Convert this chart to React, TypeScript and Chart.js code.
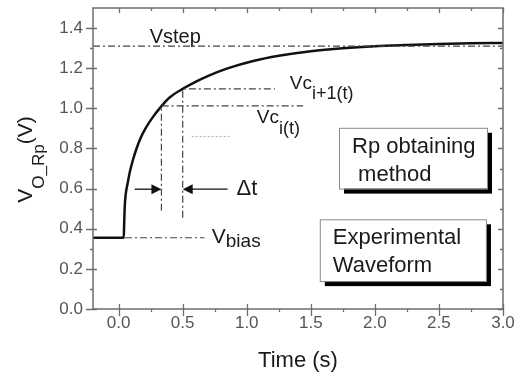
import { useEffect, useRef } from "react";
import { Chart, registerables } from "chart.js";

Chart.register(...registerables);

const FONT = '"Liberation Sans", Arial, Helvetica, sans-serif';

// ---- data ----
const timeS = [-0.2, 0.0, 0.04, 0.043, 0.047, 0.055, 0.07, 0.09, 0.115, 0.14, 0.17, 0.21, 0.26, 0.32, 0.4, 0.5, 0.6, 0.7, 0.85, 1.05, 1.25, 1.5, 1.75, 2.0, 2.25, 2.5, 2.75, 3.0];
const voltage = [0.355, 0.355, 0.355, 0.42, 0.5, 0.57, 0.625, 0.69, 0.75, 0.8, 0.85, 0.9, 0.95, 1.0, 1.055, 1.097, 1.132, 1.162, 1.199, 1.236, 1.262, 1.285, 1.3, 1.31, 1.316, 1.321, 1.324, 1.326];

const xTicks = [0, 0.5, 1.0, 1.5, 2.0, 2.5, 3.0];
const yTicks = [0, 0.2, 0.4, 0.6, 0.8, 1.0, 1.2, 1.4];
const xMinor = [0.25, 0.75, 1.25, 1.75, 2.25, 2.75];
const yMinor = [0.1, 0.3, 0.5, 0.7, 0.9, 1.1, 1.3];

// reference (dash-dot) lines
const vstepX = [-0.2, 3.0];
const vstepY = [1.31, 1.31];
const vci1X = [0.5, 0.5, 1.22];
const vci1Y = [0.455, 1.097, 1.097];
const vciX = [0.334, 0.334, 1.44];
const vciY = [0.49, 1.012, 1.012];
const vbiasX = [0.05, 0.67];
const vbiasY = [0.355, 0.355];
const dotX = [0.57, 0.88];
const dotY = [0.86, 0.86];

// delta-t arrows: [tailX, tipX, y]
const arrowLeft = [0.125, 0.334, 0.597];
const arrowRight = [0.85, 0.5, 0.597];

const pts = (xs: number[], ys: number[]) => xs.map((x, i) => ({ x, y: ys[i] }));

const DASHDOT = [7, 3, 2, 3];

const overlay = {
  id: "overlay",
  afterDraw(chart: any) {
    const ctx: CanvasRenderingContext2D = chart.ctx;
    const { left, right, top, bottom } = chart.chartArea;
    const xs = chart.scales.x;
    const ys = chart.scales.y;
    const px = (v: number) => xs.getPixelForValue(v);
    const py = (v: number) => ys.getPixelForValue(v);
    ctx.save();

    // frame
    ctx.strokeStyle = "#6e6e6e";
    ctx.lineWidth = 1.5;
    ctx.strokeRect(left, top, right - left, bottom - top);

    // ticks
    ctx.lineWidth = 1.3;
    ctx.beginPath();
    for (const v of xTicks) {
      const x = Math.round(px(v)) + 0.5;
      ctx.moveTo(x, bottom - 5);
      ctx.lineTo(x, bottom + 7);
      ctx.moveTo(x, top);
      ctx.lineTo(x, top + 5);
    }
    for (const v of xMinor) {
      const x = Math.round(px(v)) + 0.5;
      ctx.moveTo(x, bottom);
      ctx.lineTo(x, bottom + 3);
      ctx.moveTo(x, top);
      ctx.lineTo(x, top + 3);
    }
    for (const v of yTicks) {
      const y = Math.round(py(v)) + 0.5;
      ctx.moveTo(left - 7, y);
      ctx.lineTo(left + 4, y);
      ctx.moveTo(right - 5, y);
      ctx.lineTo(right, y);
    }
    for (const v of yMinor) {
      const y = Math.round(py(v)) + 0.5;
      ctx.moveTo(left - 3, y);
      ctx.lineTo(left, y);
      ctx.moveTo(right - 3, y);
      ctx.lineTo(right, y);
    }
    ctx.stroke();

    // arrows
    const arrow = (a: number[]) => {
      const tail = px(a[0]);
      const tip = px(a[1]);
      const y = py(a[2]);
      const dir = tip > tail ? 1 : -1;
      ctx.strokeStyle = "#111";
      ctx.lineWidth = 1.3;
      ctx.beginPath();
      ctx.moveTo(tail, y);
      ctx.lineTo(tip - dir * 8, y);
      ctx.stroke();
      ctx.fillStyle = "#111";
      ctx.beginPath();
      ctx.moveTo(tip, y);
      ctx.lineTo(tip - dir * 10, y - 5);
      ctx.lineTo(tip - dir * 10, y + 5);
      ctx.closePath();
      ctx.fill();
    };
    arrow(arrowLeft);
    arrow(arrowRight);

    // text helpers
    ctx.fillStyle = "#1a1a1a";
    ctx.textBaseline = "alphabetic";
    ctx.textAlign = "left";
    const sub = (x: number, y: number, main: string, s: string, ms: number, ss: number, drop: number) => {
      ctx.font = `${ms}px ${FONT}`;
      ctx.fillText(main, x, y);
      const w = ctx.measureText(main).width;
      ctx.font = `${ss}px ${FONT}`;
      ctx.fillText(s, x + w, y + drop);
    };

    ctx.font = `20px ${FONT}`;
    ctx.fillText("Vstep", px(0.242), py(1.325));
    sub(px(1.336), py(1.097), "Vc", "i+1(t)", 19, 18, 10);
    sub(px(1.078), py(0.928), "Vc", "i(t)", 19, 18, 11);
    sub(px(0.727), py(0.3275), "V", "bias", 21, 19, 4);
    ctx.font = `22px ${FONT}`;
    ctx.fillText("\u0394t", px(0.92), py(0.566));

    // boxes
    const box = (x0: number, x1: number, y0: number, y1: number, lines: string[], off: number) => {
      const l = px(x0), r = px(x1), t = py(y0), b = py(y1);
      ctx.fillStyle = "#000";
      ctx.fillRect(l + off, t + off, r - l, b - t);
      ctx.fillStyle = "#fff";
      ctx.fillRect(l, t, r - l, b - t);
      ctx.strokeStyle = "#8a8a8a";
      ctx.lineWidth = 1;
      ctx.strokeRect(l + 0.5, t + 0.5, r - l, b - t);
      ctx.fillStyle = "#1a1a1a";
      ctx.font = `22px ${FONT}`;
      ctx.textAlign = "left";
      lines.forEach((s, i) => {
        ctx.fillText(s, l + 13, t + 25 + i * 28);
      });
    };
    box(1.72, 2.875, 0.903, 0.6, ["Rp obtaining", " method"], 5);
    box(1.57, 2.867, 0.447, 0.139, ["Experimental", "Waveform"], 5);

    // axis titles
    ctx.fillStyle = "#1a1a1a";
    ctx.font = `22px ${FONT}`;
    ctx.textAlign = "center";
    ctx.fillText("Time (s)", (left + right) / 2, 367);

    ctx.save();
    ctx.translate(32, (top + bottom) / 2 + 1);
    ctx.rotate(-Math.PI / 2);
    ctx.textAlign = "left";
    ctx.font = `21px ${FONT}`;
    const wV = ctx.measureText("V").width;
    const wP = ctx.measureText("(V)").width;
    ctx.font = `17px ${FONT}`;
    const wS = ctx.measureText("O_Rp").width;
    const x0 = -(wV + wS + wP) / 2;
    ctx.font = `21px ${FONT}`;
    ctx.fillText("V", x0, 0);
    ctx.font = `17px ${FONT}`;
    ctx.fillText("O_Rp", x0 + wV, 12);
    ctx.font = `21px ${FONT}`;
    ctx.fillText("(V)", x0 + wV + wS, 0);
    ctx.restore();

    ctx.restore();
  },
};

export default function App() {
  const ref = useRef<HTMLCanvasElement>(null);
  useEffect(() => {
    document.body.style.margin = "0";
    document.body.style.background = "#fff";
    const refLine = (xs: number[], ys: number[], dash: number[], color: string, w: number) => ({
      data: pts(xs, ys),
      borderColor: color,
      borderWidth: w,
      borderDash: dash,
      pointRadius: 0,
      fill: false,
      tension: 0,
    });
    const chart = new Chart(ref.current!, {
      type: "line",
      data: {
        datasets: [
          refLine(vstepX, vstepY, DASHDOT, "#444", 1.2),
          refLine(vci1X, vci1Y, DASHDOT, "#444", 1.2),
          refLine(vciX, vciY, DASHDOT, "#444", 1.2),
          refLine(vbiasX, vbiasY, DASHDOT, "#444", 1.2),
          refLine(dotX, dotY, [2, 2], "#aaa", 1),
          {
            data: pts(timeS, voltage),
            borderColor: "#111",
            borderWidth: 2.5,
            pointRadius: 0,
            fill: false,
            cubicInterpolationMode: "monotone",
          } as any,
        ],
      },
      options: {
        animation: false,
        responsive: false,
        events: [],
        layout: { padding: { top: 8, right: 18, left: 0, bottom: 0 } },
        plugins: { legend: { display: false }, tooltip: { enabled: false } },
        scales: {
          x: {
            type: "linear",
            min: -0.2,
            max: 3.0,
            afterBuildTicks: (s: any) => {
              s.ticks = xTicks.map((v) => ({ value: v }));
            },
            afterFit: (s: any) => {
              s.height = 69;
              s.paddingLeft = 0;
              s.paddingRight = 0;
              s.paddingTop = 0;
              s.paddingBottom = 0;
            },
            ticks: {
              autoSkip: false,
              maxRotation: 0,
              padding: -2,
              color: "#555",
              font: { size: 17, family: FONT },
              callback: (v: any) => Number(v).toFixed(1),
            },
            grid: { display: false, drawTicks: true, tickLength: 6 },
            border: { display: false },
          },
          y: {
            type: "linear",
            min: 0,
            max: 1.5,
            afterBuildTicks: (s: any) => {
              s.ticks = yTicks.map((v) => ({ value: v }));
            },
            afterFit: (s: any) => {
              s.width = 93;
              s.paddingTop = 0;
              s.paddingBottom = 0;
              s.paddingLeft = 0;
              s.paddingRight = 0;
            },
            ticks: {
              autoSkip: false,
              padding: 2,
              color: "#555",
              font: { size: 17, family: FONT },
              callback: (v: any) => Number(v).toFixed(1),
            },
            grid: { display: false, drawTicks: true, tickLength: 8 },
            border: { display: false },
          },
        },
      },
      plugins: [overlay],
    } as any);
    return () => chart.destroy();
  }, []);
  return (
    <div style={{ width: 521, height: 378, overflow: "hidden" }}>
      <canvas ref={ref} width={521} height={378} style={{ display: "block" }} />
    </div>
  );
}
